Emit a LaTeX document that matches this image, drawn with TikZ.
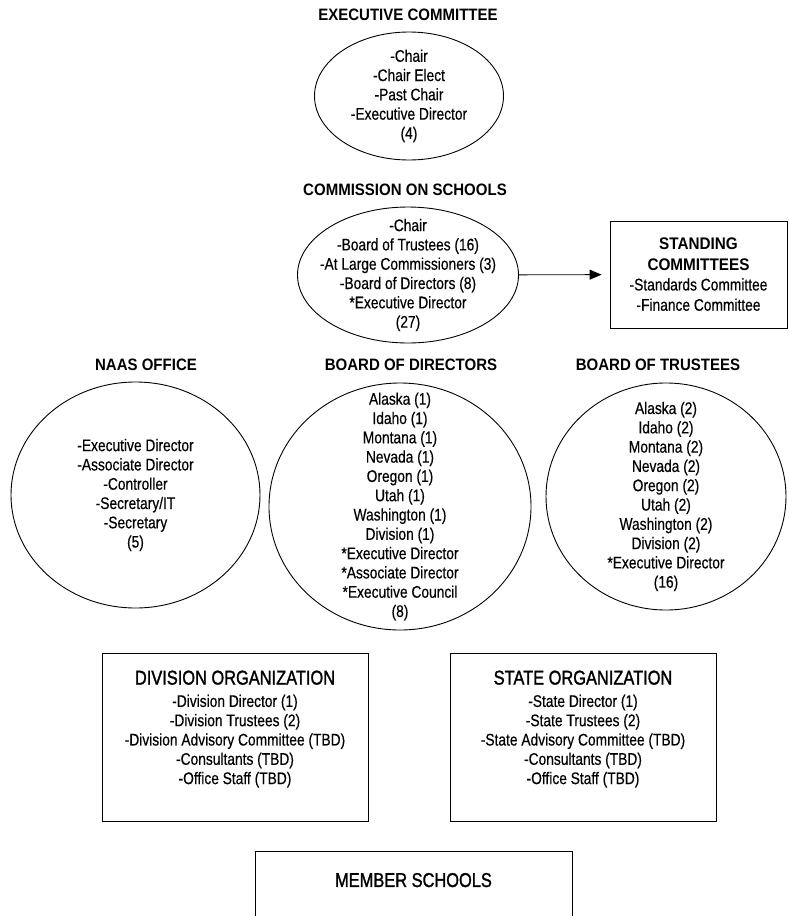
\documentclass[tikz,border=0pt]{standalone}
\usepackage{fontspec}
\setmainfont{Liberation Sans}[FakeStretch=0.82, FakeBold=0.4]
\newfontfamily\headfont{Liberation Sans}[FakeStretch=0.91]
\newfontfamily\orgfont{Liberation Sans}[FakeStretch=0.82, FakeBold=1.4]
\usetikzlibrary{shapes.geometric, arrows.meta}

\begin{document}
\begin{tikzpicture}[
    x=1pt, y=-1pt,
    every node/.style={font=\fontsize{16.8}{19.3}\selectfont},
    oval/.style={
        ellipse,
        draw=black, line width=0.9pt,
        inner sep=-40pt,
        align=center
    },
    box/.style={
        rectangle,
        draw=black, line width=0.9pt,
        align=center
    },
    head/.style={font=\headfont\bfseries\fontsize{16.5}{19.3}\selectfont},
    orgtitle/.style={font=\orgfont\fontsize{20}{22}\selectfont}
]

\useasboundingbox (0,0) rectangle (788,916);

\node[head] (exectitle) at (408,15) {EXECUTIVE COMMITTEE};
\node[oval, minimum width=189pt, minimum height=128pt] (exec) at (409,96)
    {-Chair\\-Chair Elect\\-Past Chair\\-Executive Director\\(4)};

\node[head] (comtitle) at (405,190) {COMMISSION ON SCHOOLS};
\node[oval, minimum width=221pt, minimum height=136pt] (com) at (408,275)
    {-Chair\\-Board of Trustees (16)\\-At Large Commissioners (3)\\-Board of Directors (8)\\*Executive Director\\(27)};

\node[box, minimum width=177pt, minimum height=107pt,
      font=\fontsize{16.8}{20.3}\selectfont] (standing) at (698.5,274.5)
    {{\headfont\bfseries STANDING}\\{\headfont\bfseries COMMITTEES}\\-Standards Committee\\-Finance Committee};

\draw[-{Triangle[length=12pt,width=10pt]}, line width=0.9pt, shorten >=8pt] (com) -- (standing);

\node[head] (naastitle) at (146,365) {NAAS OFFICE};
\node[oval, minimum width=249pt, minimum height=226pt] (naas) at (135.5,495)
    {-Executive Director\\-Associate Director\\-Controller\\-Secretary/IT\\-Secretary\\(5)};

\node[head] (bodtitle) at (411,365) {BOARD OF DIRECTORS};
\node[oval, minimum width=262pt, minimum height=247pt] (bod) at (400,506.5)
    {Alaska (1)\\Idaho (1)\\Montana (1)\\Nevada (1)\\Oregon (1)\\Utah (1)\\Washington (1)\\Division (1)\\*Executive Director\\*Associate Director\\*Executive Council\\(8)};

\node[head] (bottitle) at (658,365) {BOARD OF TRUSTEES};
\node[oval, minimum width=240pt, minimum height=227pt] (bot) at (666,496.5)
    {Alaska (2)\\Idaho (2)\\Montana (2)\\Nevada (2)\\Oregon (2)\\Utah (2)\\Washington (2)\\Division (2)\\*Executive Director\\(16)};

\node[box, minimum width=266pt, minimum height=168pt] (division) at (235,737)
    {{\orgfont\fontsize{20}{22}\selectfont DIVISION ORGANIZATION}\\[3pt]-Division Director (1)\\-Division Trustees (2)\\-Division Advisory Committee (TBD)\\-Consultants (TBD)\\-Office Staff (TBD)\\\phantom{x}};

\node[box, minimum width=266pt, minimum height=168pt] (state) at (583,737)
    {{\orgfont\fontsize{20}{22}\selectfont STATE ORGANIZATION}\\[3pt]-State Director (1)\\-State Trustees (2)\\-State Advisory Committee (TBD)\\-Consultants (TBD)\\-Office Staff (TBD)\\\phantom{x}};

\node[box, orgtitle, minimum width=317pt, minimum height=80pt] (members) at (413.5,891)
    {MEMBER SCHOOLS\\\phantom{x}};

\end{tikzpicture}
\end{document}
